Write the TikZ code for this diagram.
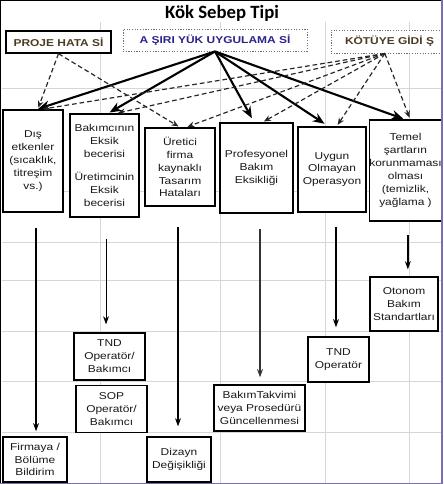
\documentclass[tikz,border=0pt]{standalone}
\usepackage{fontspec}
\setmainfont[FakeStretch=1.2]{Liberation Sans}
\newfontfamily\titlefont{Carlito}
\usetikzlibrary{arrows.meta,positioning}

\definecolor{gridgray}{RGB}{214,214,214}
\definecolor{framepurple}{RGB}{120,110,180}
\definecolor{headblue}{RGB}{45,35,140}
\definecolor{headbrown}{RGB}{75,60,35}
\definecolor{dotgray}{RGB}{110,110,110}
\definecolor{textgray}{RGB}{25,25,25}

\begin{document}
\begin{tikzpicture}[x=0.03cm,y=-0.03cm,
    every node/.style={font=\fontsize{8.5}{11}\selectfont,text=textgray,align=center,inner sep=0pt},
    box/.style={draw,fill=white,line width=1.1pt},
    headbox/.style={fill=white,font=\fontsize{8.5}{10}\selectfont\bfseries},
    dotbox/.style={headbox,draw=dotgray,line width=0.8pt,dash pattern=on 1pt off 1.3pt}]
    \useasboundingbox (0,0) rectangle (443,484);
    \fill[white] (0,0) rectangle (443,484);

    % sheet grid
    \foreach \gx in {100,220,325,409}
      \draw[gridgray,line width=0.8pt] (\gx,22) -- (\gx,484);
    \foreach \gy in {88,191,242,280,331,381,432}
      \draw[gridgray,line width=0.8pt] (2,\gy) -- (441,\gy);

    \node[font=\titlefont\fontsize{16}{18}\selectfont\bfseries,text=black] (title) at (222,13) {Kök Sebep Tipi};

    % kinds of root cause
    \node[headbox,draw,line width=1.2pt,text=headbrown,minimum width=3.15cm,minimum height=0.66cm] (proje) at (58.5,42) {PROJE HATA Sİ};
    \node[dotbox,text=headblue,minimum width=5.52cm,minimum height=0.66cm] (asiri) at (215,40) {A ŞIRI YÜK UYGULAMA Sİ};
    \node[dotbox,text=headbrown,minimum width=3.51cm,minimum height=0.69cm] (kotu) at (389.5,41.5) {KÖTÜYE GİDİ Ş};

    \begin{scope}[every node/.append style={box}]
      \node[minimum width=1.8cm,minimum height=3.06cm] (dis) at (33,161) {Dış\\etkenler\\(sıcaklık,\\titreşim\\vs.)};
      \node[minimum width=2.07cm,minimum height=3.09cm] (bak) at (104.5,165.5) {Bakımcının\\Eksik\\becerisi\\[9pt]Üretimcinin\\Eksik\\becerisi};
      \node[minimum width=2.1cm,minimum height=2.34cm] (uret) at (180,167) {Üretici\\firma\\kaynaklı\\Tasarım\\Hataları};
      \node[minimum width=2.19cm,minimum height=2.7cm] (prof) at (256.5,168) {Profesyonel\\Bakım\\Eksikliği};
      \node[minimum width=2.04cm,minimum height=2.55cm] (uygun) at (332,169.5) {Uygun\\Olmayan\\Operasyon};
      \node[minimum width=2.13cm,minimum height=3.03cm] (temel) at (405.5,170.5) {Temel\\şartların\\korunmaması\\olması\\(temizlik,\\yağlama )};

      \node[minimum width=2.04cm,minimum height=1.62cm] (otonom) at (404,304) {Otonom\\Bakım\\Standartları};
      \node[minimum width=1.83cm,minimum height=1.35cm] (tndop) at (338.5,359.5) {TND\\Operatör};
      \node[minimum width=2.13cm,minimum height=1.41cm] (tndbak) at (109.5,356.5) {TND\\Operatör/\\Bakımcı};
      \node[minimum width=2.13cm,minimum height=1.41cm,below=3.4pt of tndbak,xshift=1.7pt] (sop) {SOP\\Operatör/\\Bakımcı};
      \node[minimum width=2.73cm,minimum height=1.38cm] (takvim) at (259.5,408) {BakımTakvimi\\veya Prosedürü\\Güncellenmesi};
      \node[minimum width=1.92cm,minimum height=1.35cm] (firma) at (35,459.5) {Firmaya /\\Bölüme\\Bildirim};
      \node[minimum width=1.92cm,minimum height=1.35cm] (dizayn) at (179,459.5) {Dizayn\\Değişikliği};
    \end{scope}

    % solid arrows
    \begin{scope}[every edge/.style={draw,line width=1.8pt,-{Stealth[length=10pt,width=8pt]},shorten >=1.5pt}]
      \path (asiri.south) edge ([xshift=3pt]dis.north);
      \path (asiri.south) edge ([xshift=3pt]bak.north);
      \path (asiri.south) edge[shorten >=4pt] ([xshift=-2pt]prof.north);
      \path (asiri.south) edge[shorten >=4pt] ([xshift=-3pt]uygun.north);
      \path (asiri.south) edge ([xshift=-0.5pt]temel.north);
    \end{scope}

    % dashed arrows
    \begin{scope}[every edge/.style={draw=black!85,line width=1pt,dash pattern=on 4pt off 2.5pt,
                  -{Stealth[length=6pt,width=5pt]},shorten >=1.5pt}]
      \path (proje.south) edge ([xshift=4pt]dis.north);
      \path (proje.south) edge (uret.north);
      \path ([xshift=-4pt]kotu.south) edge ([xshift=7pt]dis.north);
      \path ([xshift=-4pt]kotu.south) edge ([xshift=10pt]bak.north);
      \path ([xshift=-4pt]kotu.south) edge ([xshift=5pt]uret.north);
      \path ([xshift=-4pt]kotu.south) edge ([xshift=5pt]prof.north);
      \path ([xshift=-4pt]kotu.south) edge ([xshift=4pt]uygun.north);
      \path ([xshift=-4pt]kotu.south) edge ([xshift=4pt]temel.north);
    \end{scope}

    % actions
    \begin{scope}[every edge/.style={draw,line width=1.5pt,-{Stealth[length=7pt,width=5pt]}}]
      \path ([xshift=2.6pt]dis.south) edge[shorten <=12.8pt,shorten >=4.3pt] ([xshift=2.6pt]dis.south |- firma.north);
      \path ([xshift=1.3pt]bak.south) edge[line width=0.8pt,shorten <=18pt,shorten >=6.8pt] ([xshift=1.3pt]bak.south |- tndbak.north);
      \path ([xshift=-1.7pt]uret.south) edge[shorten <=17pt,shorten >=8.5pt] ([xshift=-1.7pt]uret.south |- dizayn.north);
      \path ([xshift=3pt]prof.south) edge[draw=black!80,line width=2pt,shorten <=12.8pt,shorten >=6pt] ([xshift=3pt]prof.south |- takvim.north);
      \path ([xshift=3.4pt]uygun.south) edge[shorten <=12pt,shorten >=7.7pt] ([xshift=3.4pt]uygun.south |- tndop.north);
      \path ([xshift=2pt]temel.south) edge[line width=1.2pt,shorten <=11pt,shorten >=6pt] ([xshift=2pt]temel.south |- otonom.north);
    \end{scope}

    % frame
    \draw[black,line width=2pt] (0,484) -- (0,0) -- (443,0);
    \draw[framepurple,line width=1pt] (442,0) -- (442,483.5) -- (0,483.5);
\end{tikzpicture}
\end{document}
